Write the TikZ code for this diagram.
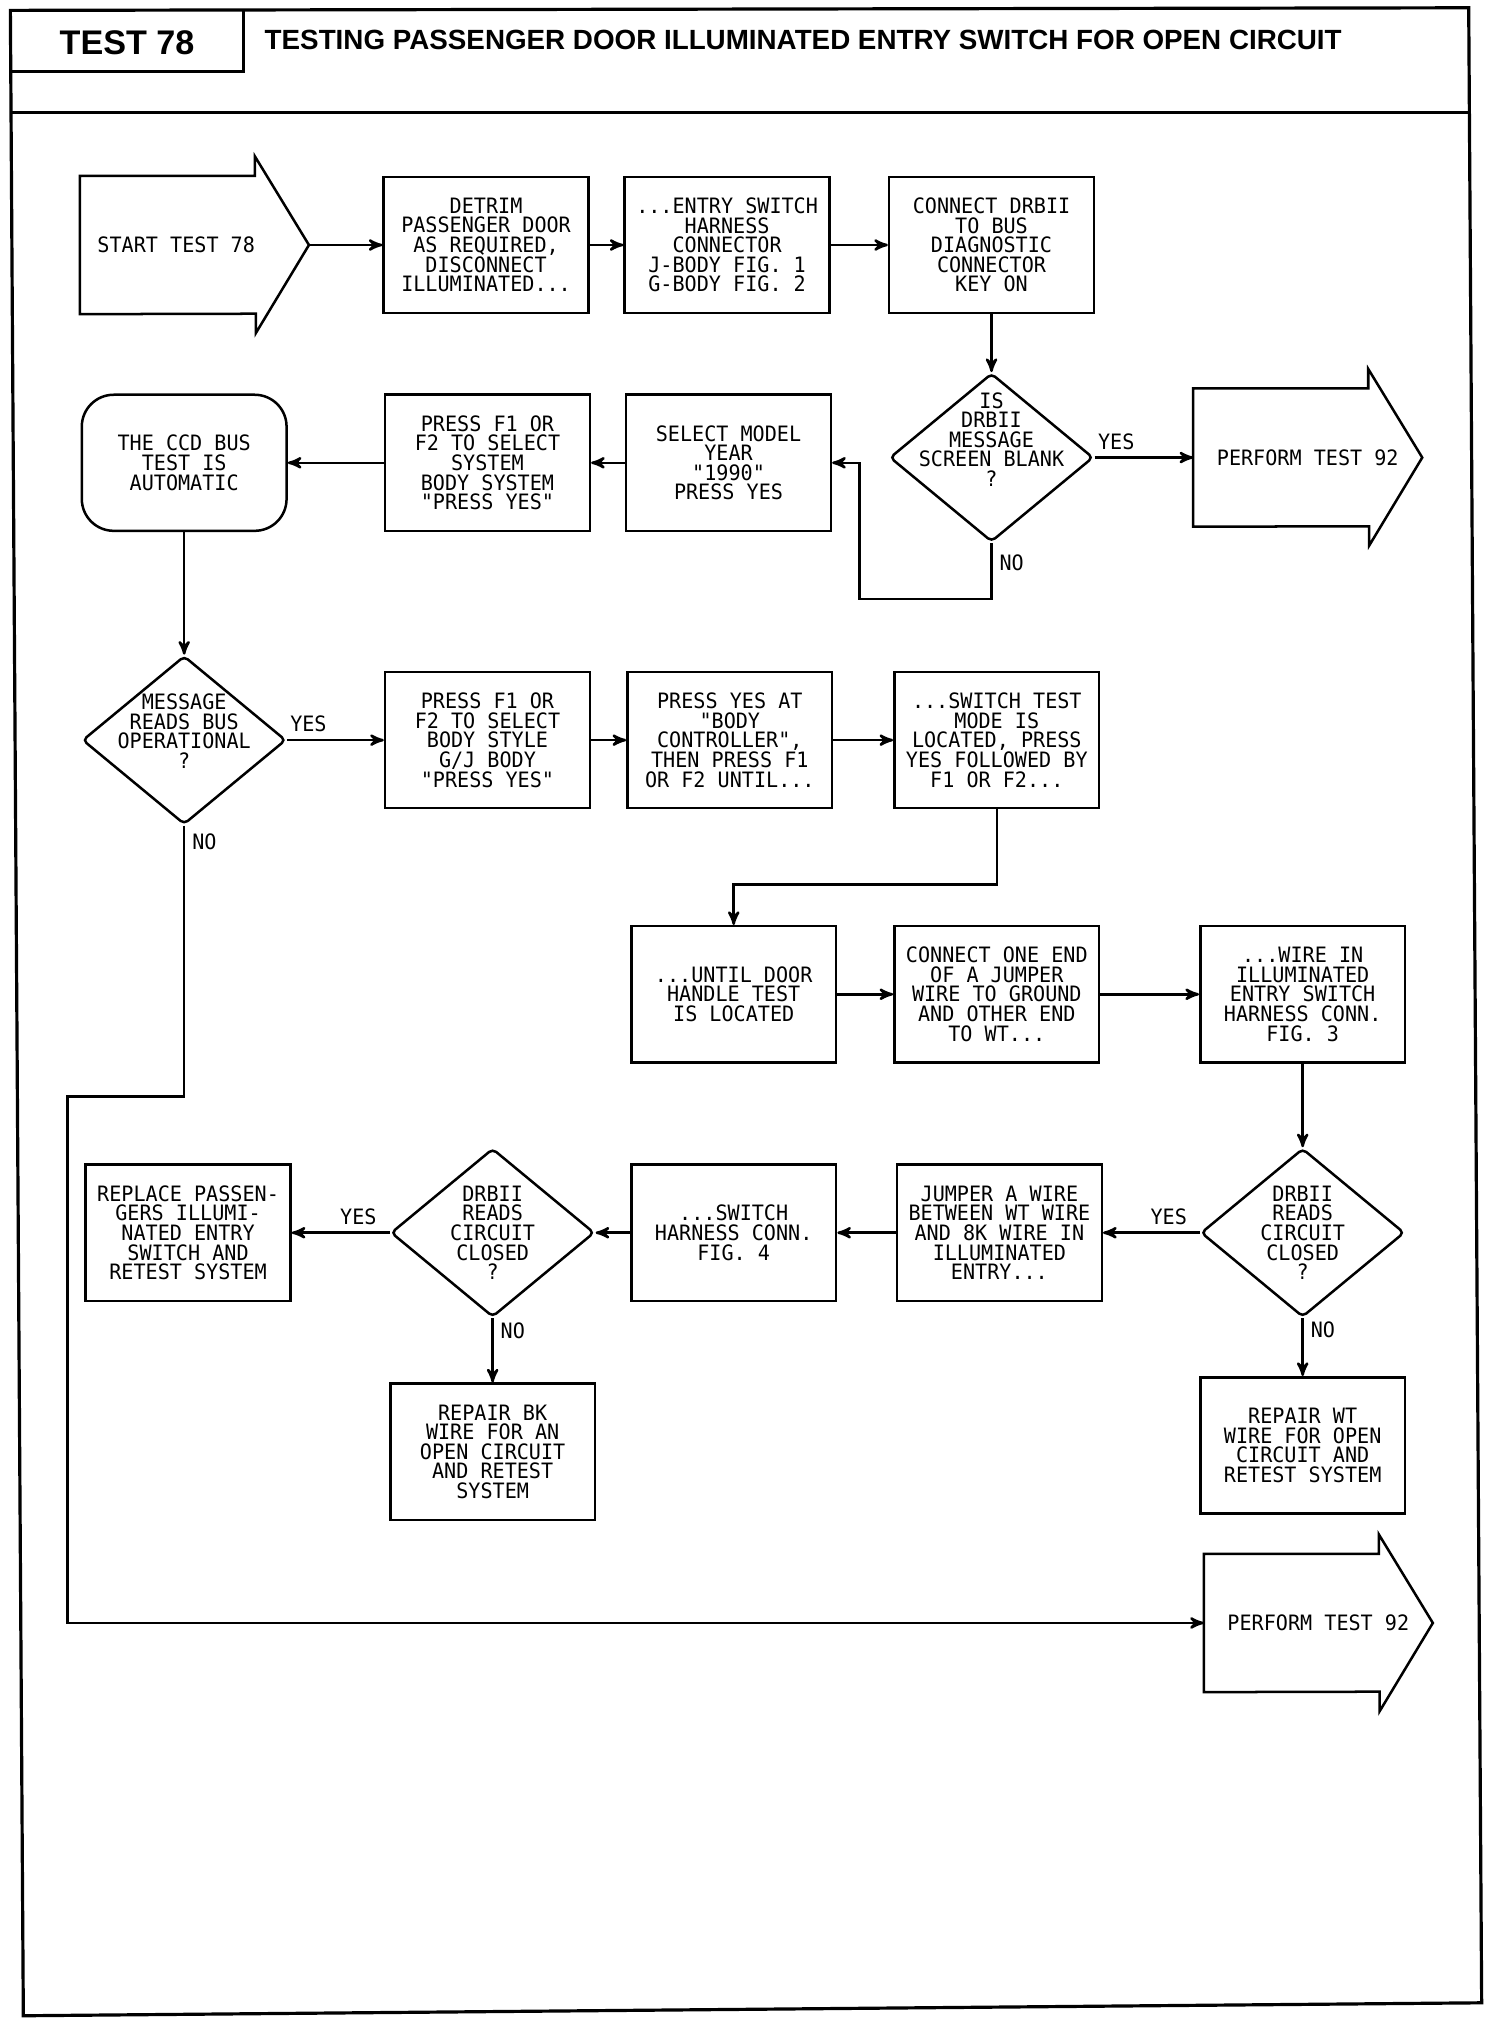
\documentclass[tikz,border=0pt]{standalone}
\usepackage{fontspec}
\usepackage{tikz}
\usetikzlibrary{arrows,shapes.geometric}

\newfontfamily\plotfont[FakeStretch=0.95]{DejaVu Sans Mono}
\newfontfamily\headfont{Liberation Sans}
\newcommand{\boxtext}{\fontsize{9.3pt}{8.6pt}\selectfont\plotfont}

\begin{document}
\begin{tikzpicture}[>=stealth', x=0.02cm, y=-0.02cm,
    every node/.style={font=\boxtext},
    box/.style={draw, line width=1.1pt, minimum width=3.16cm, minimum height=2.1cm, align=center, inner sep=2pt},
    term/.style={box, rounded corners=14pt},
    decision/.style={diamond, draw, line width=1.1pt, minimum width=3.14cm, minimum height=2.6cm, inner sep=0pt, rounded corners=2pt},
    dtext/.style={align=center, inner sep=0pt},
    flag/.style={minimum width=3.52cm, minimum height=2.12cm, inner sep=0pt},
    lbl/.style={inner sep=3pt},
    link/.style={->, line width=1.1pt}]

    \path[use as bounding box, fill=white] (0,0) rectangle (1160,1566);

    % frame and header
    \draw[line width=1.4pt] (8,8) -- (1133,6) -- (1143,1545) -- (18,1555) -- cycle;
    \draw[line width=1.4pt] (8,87) -- (1134,87);
    \draw[line width=1.4pt] (188,8) -- (188,55) -- (8,55);
    \node (testno) at (98,33) {\headfont\bfseries\fontsize{15pt}{15pt}\selectfont TEST 78};
    \node[anchor=west] (title) at (198,31) {\headfont\bfseries\fontsize{12.2pt}{13pt}\selectfont TESTING PASSENGER DOOR ILLUMINATED ENTRY SWITCH FOR OPEN CIRCUIT};

    % row 1
    \node[flag] (start) at (150,189) {START TEST 78\hspace*{16pt}};
    \node[box] (detrim) [node distance=4.5cm, right of=start] {DETRIM\\PASSENGER DOOR\\AS REQUIRED,\\DISCONNECT\\ILLUMINATED...};
    \node[box] (harness) [node distance=3.72cm, right of=detrim] {...ENTRY SWITCH\\HARNESS\\CONNECTOR\\J-BODY FIG. 1\\G-BODY FIG. 2};
    \node[box] (connect) [node distance=4.08cm, right of=harness] {CONNECT DRBII\\TO BUS\\DIAGNOSTIC\\CONNECTOR\\KEY ON};

    % row 2
    \node[decision] (blank) [node distance=3.28cm, below of=connect,
        label={[dtext,yshift=8pt]center:{IS\\DRBII\\MESSAGE\\SCREEN BLANK\\?}}] {};
    \node[flag] (perform1) [node distance=4.88cm, right of=blank] {PERFORM TEST 92};
    \node[box] (select) at (562,357) {SELECT MODEL\\YEAR\\"1990"\\PRESS YES};
    \node[box] (system) [node distance=3.72cm, left of=select] {PRESS F1 OR\\F2 TO SELECT\\SYSTEM\\BODY SYSTEM\\"PRESS YES"};
    \node[term] (ccd) [node distance=4.68cm, left of=system] {THE CCD BUS\\TEST IS\\AUTOMATIC};

    % row 3
    \node[decision] (bus) [node distance=4.28cm, below of=ccd,
        label={[dtext,yshift=4pt]center:{MESSAGE\\READS BUS\\OPERATIONAL\\?}}] {};
    \node[box] (bodystyle) [node distance=4.68cm, right of=bus] {PRESS F1 OR\\F2 TO SELECT\\BODY STYLE\\G/J BODY\\"PRESS YES"};
    \node[box] (yesat) [node distance=3.74cm, right of=bodystyle] {PRESS YES AT\\"BODY\\CONTROLLER",\\THEN PRESS F1\\OR F2 UNTIL...};
    \node[box] (testmode) [node distance=4.12cm, right of=yesat] {...SWITCH TEST\\MODE IS\\LOCATED, PRESS\\YES FOLLOWED BY\\F1 OR F2...};

    % row 4
    \node[box] (handle) at (566,767) {...UNTIL DOOR\\HANDLE TEST\\IS LOCATED};
    \node[box] (ground) [node distance=4.06cm, right of=handle] {CONNECT ONE END\\OF A JUMPER\\WIRE TO GROUND\\AND OTHER END\\TO WT...};
    \node[box] (wirein) [node distance=4.72cm, right of=ground] {...WIRE IN\\ILLUMINATED\\ENTRY SWITCH\\HARNESS CONN.\\FIG. 3};

    % row 5
    \node[decision] (closedwt) [node distance=3.68cm, below of=wirein,
        label={[dtext]center:{DRBII\\READS\\CIRCUIT\\CLOSED\\?}}] {};
    \node[box] (jumpbk) [node distance=4.68cm, left of=closedwt] {JUMPER A WIRE\\BETWEEN WT WIRE\\AND 8K WIRE IN\\ILLUMINATED\\ENTRY...};
    \node[box] (conn4) [node distance=4.1cm, left of=jumpbk] {...SWITCH\\HARNESS CONN.\\FIG. 4};
    \node[decision] (closedbk) [node distance=3.72cm, left of=conn4,
        label={[dtext]center:{DRBII\\READS\\CIRCUIT\\CLOSED\\?}}] {};
    \node[box] (replace) [node distance=4.7cm, left of=closedbk] {REPLACE PASSEN-\\GERS ILLUMI-\\NATED ENTRY\\SWITCH AND\\RETEST SYSTEM};
    \node[box] (repairbk) [node distance=3.38cm, below of=closedbk] {REPAIR BK\\WIRE FOR AN\\OPEN CIRCUIT\\AND RETEST\\SYSTEM};
    \node[box] (repairwt) [node distance=3.28cm, below of=closedwt] {REPAIR WT\\WIRE FOR OPEN\\CIRCUIT AND\\RETEST SYSTEM};

    \node[flag] (perform2) at (1017,1252) {PERFORM TEST 92};

    % arrow outlines
    \foreach \f in {start,perform1,perform2}
      \draw[line width=1.1pt] (\f.north west) -- ++(135,0) -- ++(0,-15) -- (\f.east)
        -- ++(-41,68) -- ++(0,-15) -- (\f.south west) -- cycle;

    % connectors
    \draw[link] (start.east) -- (detrim);
    \draw[link] (detrim) -- (harness);
    \draw[link] (harness) -- (connect);
    \draw[link] (connect) -- (blank);
    \draw[link] (blank) -- node[lbl, above, pos=0.22] (yes1) {YES} (perform1.west);
    \draw[link] (blank.south) -- node[lbl, right, pos=0.35] (no1) {NO} ++(0,43) -- ++(-102,0) |- (select.east);
    \draw[link] (select) -- (system);
    \draw[link] (system) -- (ccd);
    \draw[link] (ccd) -- (bus);
    \draw[link] (bus) -- node[lbl, above, pos=0.22] (yes2) {YES} (bodystyle);
    \draw[link] (bodystyle) -- (yesat);
    \draw[link] (yesat) -- (testmode);
    \draw[link] (testmode.south) -- ++(0,58) -| (handle.north);
    \draw[link] (bus.south) -- node[lbl, right, pos=0.06] (no2) {NO} ++(0,209) -- ++(-90,0) |- (perform2.west);
    \draw[link] (handle) -- (ground);
    \draw[link] (ground) -- (wirein);
    \draw[link] (wirein) -- (closedwt);
    \draw[link] (closedwt) -- node[lbl, above, pos=0.32] (yes3) {YES} (jumpbk);
    \draw[link] (closedwt) -- node[lbl, right, pos=0.2] (no3) {NO} (repairwt);
    \draw[link] (jumpbk) -- (conn4);
    \draw[link] (conn4) -- (closedbk);
    \draw[link] (closedbk) -- node[lbl, above, pos=0.32] (yes4) {YES} (replace);
    \draw[link] (closedbk) -- node[lbl, right, pos=0.2] (no4) {NO} (repairbk);
\end{tikzpicture}
\end{document}
